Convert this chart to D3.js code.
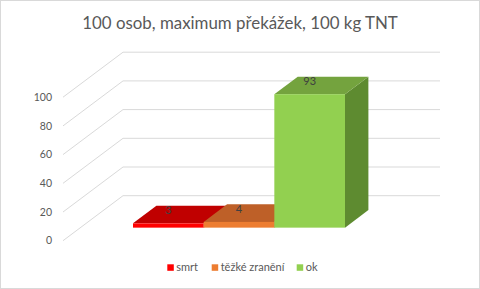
<!DOCTYPE html>
<html><head><meta charset="utf-8">
<script src="https://cdn.jsdelivr.net/npm/d3@7"></script>
<style>html,body{margin:0;padding:0;background:#fff;}svg{display:block;font-family:Lato,"Open Sans",sans-serif;}</style>
</head><body>
<svg id="c" width="480" height="289"></svg>
<script>
const title = "100 osob, maximum překážek, 100 kg TNT";
const categories = ["smrt", "těžké zranění", "ok"];
const values = [3, 4, 93];
const yTicks = [0, 20, 40, 60, 80, 100];
const colors = {
  front: ["#FF0000", "#ED7D31", "#92D050"],
  top:   ["#C00000", "#BE6028", "#74A33E"],
  side:  ["#A00000", "#A3511F", "#5E8B30"]
};

const svg = d3.select("#c");
const W = 480, H = 289;
svg.append("rect").attr("x",0.5).attr("y",0.5).attr("width",W-1).attr("height",H-1)
  .attr("fill","#fff").attr("stroke","#D9D9D9");

// 3D geometry
const floorX0 = 63, floorX1 = 380, floorY = 240.7;
const DX = 60, DY = -45;           // full depth vector
const dFront = 0.29, dBack = 0.68;  // bar depth fractions
const y = d3.scaleLinear().domain([0, 100]).range([floorY, 97.2]);
const hPx = v => floorY - y(v);

// gridlines
const g = svg.append("g");
yTicks.forEach(t => {
  const yf = y(t);
  g.append("path")
    .attr("d", `M${floorX0},${yf}L${floorX0+DX},${yf+DY}L${floorX1+DX},${yf+DY}`)
    .attr("fill","none").attr("stroke","#D9D9D9").attr("stroke-width",1);
  g.append("text").attr("x",52).attr("y",yf).attr("dy","0.35em")
    .attr("text-anchor","end").attr("font-size","10.5px").attr("fill","#595959").text(t);
});

// bars
const x = d3.scaleBand().domain(categories).range([115.6, 327.6]).padding(0);
const ox = DX*dFront, oy = DY*dFront;
const bx = DX*(dBack-dFront), by = DY*(dBack-dFront);
const bars = svg.append("g");
categories.forEach((c, i) => {
  const v = values[i];
  const xl = x(c) + ox, xr = x(c) + x.bandwidth() + ox;
  const yb = floorY + oy, yt = yb - hPx(v);
  // side
  bars.append("path").attr("d",
    `M${xr},${yt}L${xr+bx},${yt+by}L${xr+bx},${yb+by}L${xr},${yb}Z`).attr("fill", colors.side[i]);
  // top
  bars.append("path").attr("d",
    `M${xl},${yt}L${xl+bx},${yt+by}L${xr+bx},${yt+by}L${xr},${yt}Z`).attr("fill", colors.top[i]);
  // front
  bars.append("rect").attr("x", xl).attr("y", yt).attr("width", xr-xl).attr("height", yb-yt)
    .attr("fill", colors.front[i]);
});
categories.forEach((c, i) => {
  const xc = x(c) + x.bandwidth()/2 + ox;
  const yt = floorY + oy - hPx(values[i]);
  bars.append("text").attr("x", xc).attr("y", yt - 13).attr("dy","0.35em")
    .attr("text-anchor","middle").attr("font-size","11px").attr("fill","#404040").text(values[i]);
});

// title
const tt = svg.append("text").attr("x", 240).attr("y", 29).attr("text-anchor","middle")
  .attr("font-size","18.5px").attr("fill","#595959").text(title);
const tw = tt.node().getComputedTextLength();
tt.attr("font-size", (18.5*316/tw).toFixed(2)+"px");

// legend
const legX = [167.3, 211.7, 296.7];
const leg = svg.append("g");
categories.forEach((c, i) => {
  leg.append("rect").attr("x", legX[i]).attr("y", 264.3).attr("width", 6.5).attr("height", 6.5)
    .attr("fill", colors.front[i]);
  leg.append("text").attr("x", legX[i] + 9).attr("y", 267.6).attr("dy","0.35em")
    .attr("font-size","11px").attr("fill","#595959").text(c);
});
</script>
</body></html>
